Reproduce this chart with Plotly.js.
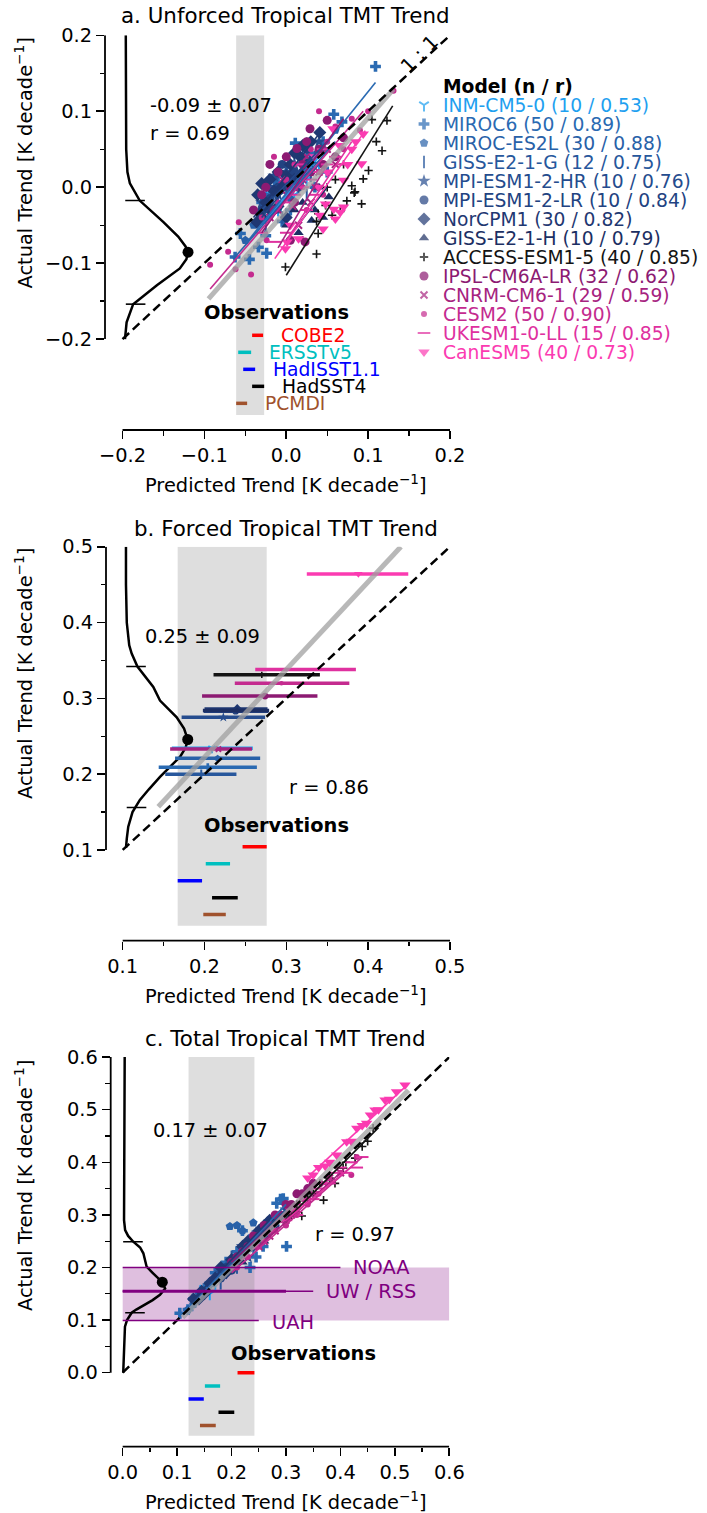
<!DOCTYPE html>
<html><head><meta charset="utf-8">
<script src="https://cdn.plot.ly/plotly-3.0.1.min.js"></script>
<style>html,body{margin:0;padding:0;background:#fff}#chart{width:707px;height:1513px}</style>
</head><body><div id="chart"></div>
<script>
// ================= DATA =================
const models = ['INM-CM5-0','MIROC6','MIROC-ES2L','GISS-E2-1-G','MPI-ESM1-2-HR','MPI-ESM1-2-LR','NorCPM1','GISS-E2-1-H','ACCESS-ESM1-5','IPSL-CM6A-LR','CNRM-CM6-1','CESM2','UKESM1-0-LL','CanESM5'];
const nRuns = [10,50,30,12,10,10,30,10,40,32,29,50,15,40];
const rModel = ['0.53','0.89','0.88','0.75','0.76','0.84','0.82','0.79','0.85','0.62','0.59','0.90','0.85','0.73'];

// panel a: unforced trend (predicted, actual) per model
const unforcedPts = [
 [[-0.03,-0.04],[-0.02,-0.01],[-0.01,-0.03],[0.0,0.0],[0.01,-0.01],[0.015,0.02],[0.025,0.01],[0.03,0.04],[-0.005,0.015],[0.04,0.03]],
 [[0.109,0.159],[0.068,0.086],[0.058,0.096],[0.045,0.06],[0.03,0.045],[0.02,0.03],[0.011,0.058],[0.0,0.02],[-0.01,0.005],[-0.02,-0.01],[-0.03,-0.02],[-0.035,-0.045],[-0.045,-0.095],[-0.0625,-0.092],[-0.024,-0.087],[-0.034,-0.079],[-0.025,-0.064],[-0.056,-0.061],[0.005,-0.03],[0.05,0.02],[-0.005,-0.045],[0.035,0.0],[0.015,0.005]],
 [[-0.05,-0.07],[-0.04,-0.05],[-0.03,-0.04],[-0.02,-0.02],[-0.01,-0.03],[0.0,0.0],[0.01,0.01],[0.02,0.015],[0.03,0.035],[0.045,0.05],[0.06,0.075],[-0.015,0.01],[0.005,-0.015],[0.025,0.06]],
 [[-0.02,-0.03],[-0.01,-0.02],[0.0,-0.005],[0.005,0.01],[0.015,0.0],[0.02,0.02],[0.03,0.015],[-0.025,-0.05],[0.01,0.03],[0.035,0.04],[-0.005,-0.04],[0.025,-0.01]],
 [[-0.03,-0.02],[-0.02,0.0],[-0.01,-0.01],[0.0,0.02],[0.01,0.03],[0.02,0.04],[0.03,0.03],[0.04,0.06],[-0.015,0.015],[0.005,0.0]],
 [[-0.03,-0.03],[-0.02,-0.015],[-0.01,0.0],[0.0,0.01],[0.01,0.02],[0.02,0.02],[0.025,0.05],[-0.005,0.03],[0.015,0.0],[0.03,0.035]],
 [[-0.035,-0.01],[-0.03,0.005],[-0.025,-0.02],[-0.02,0.01],[-0.015,-0.005],[-0.01,0.02],[-0.005,0.0],[0.0,0.015],[0.005,0.03],[0.01,0.01],[0.017,0.04],[0.02,0.055],[0.025,0.03],[0.03,0.06],[-0.02,-0.03],[-0.03,-0.04],[0.041,0.072],[0.01,0.045],[-0.01,-0.025],[0.0,-0.04],[-0.036,-0.046]],
 [[0.0,-0.05],[0.01,-0.03],[0.02,-0.02],[0.031,-0.044],[0.04,0.0],[0.045,-0.04],[0.052,-0.013],[0.015,-0.06],[0.025,0.02],[0.035,-0.03]],
 [[0.1046,0.089],[0.123,0.0876],[0.117,0.048],[0.1005,0.022],[0.094,0.011],[0.08,0.002],[0.092,-0.022],[0.083,-0.0075],[0.066,-0.032],[0.037,-0.045],[0.037,-0.088],[0.048,-0.024],[0.074,-0.018],[0.056,-0.037],[0.084,-0.006],[-0.001,-0.105],[0.039,-0.061],[0.039,-0.035],[0.06,0.01],[0.07,0.03],[0.05,0.0],[0.11,0.06],[0.02,-0.07]],
 [[0.029,0.077],[0.013,0.051],[0.05,0.088],[-0.02,0.03],[-0.01,0.02],[0.0,0.04],[0.02,0.03],[0.03,0.02],[0.04,0.05],[-0.03,-0.01],[-0.025,0.0],[0.01,-0.02],[0.06,0.04],[-0.04,-0.03],[0.005,0.0],[0.045,0.03],[-0.015,-0.03],[0.025,0.06],[0.005,-0.07],[0.023,-0.072],[0.07,0.065]],
 [[-0.02,-0.04],[-0.01,-0.03],[0.0,-0.01],[0.01,0.0],[0.02,0.01],[0.03,-0.02],[0.04,0.02],[0.015,-0.05],[0.025,0.04],[0.05,0.05],[-0.005,0.01],[0.035,0.0],[0.06,0.03],[0.008,-0.025]],
 [[-0.093,-0.102],[-0.071,-0.085],[-0.058,-0.046],[-0.062,-0.108],[-0.043,-0.115],[-0.024,-0.07],[0.131,0.127],[0.04,0.1],[-0.03,-0.04],[-0.01,-0.02],[0.0,0.01],[0.01,0.03],[0.02,0.0],[0.03,0.05],[0.04,0.02],[0.05,0.06],[0.06,0.08],[0.07,0.05],[0.08,0.09],[-0.015,0.04],[0.025,-0.03],[0.09,0.075],[0.045,-0.01],[0.1,0.1]],
 [[-0.03,-0.06],[-0.014,-0.072],[0.0,-0.02],[0.01,-0.01],[0.02,0.0],[0.03,0.01],[0.04,0.02],[0.05,0.03],[0.06,0.04],[0.015,0.03],[0.025,-0.03],[0.045,0.05],[0.0,-0.06],[0.07,0.03],[0.035,-0.01]],
 [[0.057,0.077],[0.094,0.07],[0.092,0.031],[0.08,0.05],[0.07,0.009],[0.06,-0.042],[0.066,-0.033],[0.048,-0.022],[0.005,-0.05],[-0.001,-0.081],[0.058,-0.029],[0.07,-0.026],[0.041,-0.037],[0.015,-0.068],[0.001,-0.072],[0.04,0.0],[0.05,0.02],[0.075,0.03],[0.085,0.06],[0.035,0.04],[0.065,0.055],[0.045,-0.055]]
];
// per-model regression lines in panel a: [x0, y0, x1, y1]
const unforcedFit = [
 [-0.03,-0.05,0.04,0.04],[-0.05,-0.075,0.109,0.138],[-0.065,-0.095,0.06,0.06],[-0.02,-0.04,0.04,0.03],
 [-0.03,-0.03,0.05,0.06],[-0.03,-0.04,0.03,0.04],[-0.04,-0.04,0.04,0.07],[0.0,-0.07,0.05,0.0],
 [0.0,-0.116,0.13,0.107],[-0.03,-0.06,0.07,0.09],[-0.01,-0.08,0.05,0.03],[-0.093,-0.134,0.094,0.10],
 [0.0,-0.07,0.08,0.06],[-0.014,-0.094,0.0965,0.0745]
];
const unforcedAllFit = [-0.095,-0.147,0.131,0.129];

// panel b: forced trend, predicted (centre, low, high) and actual
const forcedPred = [0.209,0.204,0.216,0.196,0.223,0.238,0.240,0.240,0.270,0.274,0.217,0.294,0.323,0.388];
const forcedLo   = [0.160,0.144,0.164,0.152,0.172,0.199,0.200,0.198,0.211,0.197,0.158,0.237,0.262,0.325];
const forcedHi   = [0.259,0.264,0.268,0.239,0.274,0.278,0.277,0.279,0.341,0.338,0.258,0.377,0.385,0.449];
const forcedAct  = [0.234,0.209,0.221,0.200,0.275,0.283,0.286,0.284,0.331,0.303,0.233,0.320,0.338,0.464];
const forcedAllFit = [0.1435,0.157,0.44,0.5];

// panel c: total trend
const totalPts = [
 [[0.15,0.16],[0.17,0.17],[0.18,0.19],[0.2,0.2],[0.21,0.22],[0.22,0.23],[0.23,0.24],[0.19,0.2],[0.24,0.25],[0.16,0.15]],
 [[0.105,0.113],[0.12,0.12],[0.13,0.14],[0.145,0.15],[0.15,0.16],[0.16,0.17],[0.17,0.19],[0.18,0.19],[0.19,0.21],[0.203,0.214],[0.21,0.23],[0.228,0.233],[0.234,0.2],[0.245,0.22],[0.258,0.24],[0.27,0.28],[0.283,0.322],[0.29,0.33],[0.301,0.24],[0.295,0.331],[0.24,0.26],[0.22,0.27]],
 [[0.12,0.12],[0.13,0.13],[0.14,0.15],[0.155,0.16],[0.165,0.17],[0.175,0.18],[0.185,0.2],[0.197,0.278],[0.21,0.28],[0.22,0.27],[0.24,0.285],[0.25,0.25],[0.26,0.27],[0.28,0.29]],
 [[0.17,0.18],[0.18,0.17],[0.19,0.19],[0.2,0.21],[0.21,0.2],[0.22,0.22],[0.23,0.23],[0.24,0.235],[0.25,0.26],[0.26,0.255],[0.27,0.27],[0.2,0.22]],
 [[0.18,0.19],[0.19,0.2],[0.2,0.21],[0.22,0.24],[0.23,0.22],[0.24,0.25],[0.26,0.27],[0.27,0.28],[0.29,0.3],[0.3,0.31]],
 [[0.18,0.18],[0.19,0.2],[0.2,0.195],[0.21,0.22],[0.22,0.225],[0.24,0.24],[0.25,0.27],[0.26,0.26],[0.27,0.29],[0.28,0.28]],
 [[0.13,0.14],[0.14,0.14],[0.145,0.155],[0.15,0.15],[0.16,0.17],[0.17,0.18],[0.18,0.2],[0.19,0.19],[0.2,0.215],[0.21,0.21],[0.22,0.24],[0.23,0.25],[0.24,0.25],[0.25,0.27],[0.26,0.28],[0.27,0.29]],
 [[0.2,0.2],[0.21,0.22],[0.22,0.21],[0.23,0.24],[0.24,0.24],[0.25,0.26],[0.26,0.25],[0.27,0.28],[0.28,0.29],[0.3,0.3]],
 [[0.329,0.298],[0.369,0.328],[0.405,0.389],[0.427,0.408],[0.46,0.465],[0.3625,0.36],[0.3,0.29],[0.32,0.32],[0.34,0.33],[0.35,0.34],[0.38,0.37],[0.39,0.36],[0.41,0.4],[0.44,0.43],[0.45,0.44],[0.31,0.3]],
 [[0.2,0.21],[0.21,0.22],[0.22,0.23],[0.23,0.24],[0.24,0.26],[0.25,0.26],[0.26,0.28],[0.27,0.28],[0.28,0.3],[0.29,0.3],[0.3,0.32],[0.31,0.32],[0.32,0.34],[0.33,0.34],[0.34,0.35],[0.35,0.36]],
 [[0.25,0.24],[0.26,0.25],[0.27,0.26],[0.28,0.27],[0.3,0.29],[0.31,0.3],[0.32,0.31],[0.34,0.33],[0.35,0.34],[0.37,0.36],[0.38,0.37],[0.4,0.38]],
 [[0.2,0.2],[0.21,0.2],[0.22,0.22],[0.23,0.22],[0.24,0.24],[0.25,0.24],[0.26,0.25],[0.27,0.27],[0.28,0.27],[0.29,0.29],[0.3,0.28],[0.31,0.31],[0.32,0.3],[0.33,0.33],[0.34,0.32],[0.36,0.34],[0.38,0.37],[0.4,0.38],[0.42,0.376],[0.43,0.41]],
 [[0.3,0.29],[0.31,0.31],[0.32,0.3],[0.33,0.32],[0.34,0.33],[0.35,0.33],[0.36,0.35],[0.37,0.36],[0.38,0.36],[0.39,0.38],[0.4,0.39],[0.41,0.38],[0.42,0.4],[0.43,0.39],[0.44,0.41]],
 [[0.35,0.376],[0.372,0.393],[0.393,0.414],[0.4115,0.439],[0.43,0.4645],[0.448,0.474],[0.4635,0.4995],[0.482,0.5185],[0.503,0.534],[0.5186,0.547],[0.34,0.37],[0.36,0.39],[0.42,0.44],[0.44,0.47],[0.47,0.5],[0.49,0.52],[0.38,0.4],[0.455,0.49]]
];
const totalFit = [
 [0.15,0.15,0.25,0.26],[0.11,0.11,0.30,0.32],[0.12,0.12,0.28,0.29],[0.17,0.17,0.27,0.27],
 [0.18,0.19,0.30,0.31],[0.18,0.18,0.28,0.29],[0.13,0.14,0.27,0.29],[0.20,0.20,0.30,0.30],
 [0.30,0.29,0.47,0.466],[0.20,0.21,0.36,0.36],[0.25,0.24,0.40,0.38],[0.20,0.19,0.44,0.41],
 [0.30,0.29,0.43,0.40],[0.344,0.376,0.525,0.549]
];
const totalAllFit = [0.11,0.105,0.525,0.537];

// left-hand distributions of the observation-based actual trend (value, density-position)
const unforcedPdfY = [0.2,0.1,0.05,0.02,0.005,-0.0176,-0.046,-0.065,-0.078,-0.0855,-0.095,-0.107,-0.129,-0.154,-0.178,-0.2];
const unforcedPdfX = [-0.196,-0.196,-0.1955,-0.194,-0.191,-0.179,-0.150,-0.132,-0.123,-0.120,-0.122,-0.130,-0.158,-0.187,-0.195,-0.197];
const forcedPdfY = [0.5,0.45,0.40,0.37,0.359,0.342,0.315,0.297,0.275,0.26,0.2457,0.235,0.2228,0.21,0.1964,0.18,0.166,0.15,0.1307,0.115,0.1026];
const forcedPdfX = [0.104,0.104,0.105,0.108,0.111,0.118,0.1374,0.1456,0.166,0.175,0.1795,0.177,0.170,0.158,0.1456,0.132,0.121,0.112,0.1068,0.105,0.104];
const totalPdfY = [0.6,0.5,0.4,0.3,0.29,0.271,0.26,0.249,0.238,0.227,0.215,0.2015,0.19,0.18,0.172,0.16,0.148,0.138,0.1287,0.12,0.114,0.1,0.0875,0.05,0.03,0.0];
const totalPdfX = [0.0037,0.0037,0.003,0.003,0.0025,0.0045,0.01,0.0195,0.032,0.038,0.041,0.044,0.055,0.066,0.0728,0.078,0.0685,0.055,0.038,0.025,0.0165,0.008,0.0042,0.0025,0.002,0.001];
const pdfPeak = [[-0.120,-0.0855],[0.1795,0.2457],[0.0728,0.172]];
const pdfSigmaMarks = [[[-0.1847,-0.0176],[-0.184,-0.154]],[[0.1163,0.342],[0.1169,0.156]],[[0.0189,0.249],[0.0226,0.114]]];
const statText = ['-0.09 ± 0.07','0.25 ± 0.09','0.17 ± 0.07'];
const rText = ['r = 0.69','r = 0.86','r = 0.97'];

// observational SST datasets: predicted trend ranges
const obsNames = ['COBE2','ERSSTv5','HadISST1.1','HadSST4','PCMDI'];
const obsUnforcedLo = [-0.0417,-0.0587,-0.0526,-0.0417,-0.0612];
const obsUnforcedHi = [-0.0283,-0.0429,-0.0380,-0.0270,-0.0478];
const obsForcedLo = [0.2465,0.2015,0.1672,0.2092,0.1985];
const obsForcedHi = [0.2760,0.2312,0.1970,0.2406,0.2260];
const obsTotalLo = [0.211,0.151,0.121,0.176,0.142];
const obsTotalHi = [0.242,0.179,0.149,0.205,0.171];

// satellite TMT trends (panel c)
const satNames = ['NOAA','UW','RSS','UAH'];
const satTrend = [0.200,0.155,0.155,0.099];

const tickA = [-0.2,-0.1,0,0.1,0.2], tickTextA = ['−0.2','−0.1','0.0','0.1','0.2'], minorA = [-0.15,-0.05,0.05,0.15];
const tickB = [0.1,0.2,0.3,0.4,0.5], tickTextB = ['0.1','0.2','0.3','0.4','0.5'], minorB = [0.15,0.25,0.35,0.45];
const tickC = [0,0.1,0.2,0.3,0.4,0.5,0.6], tickTextC = ['0.0','0.1','0.2','0.3','0.4','0.5','0.6'], minorC = [0.05,0.15,0.25,0.35,0.45,0.55];

// ================= STYLE =================
const modelColors = ['#1ea0f0','#2a6ab2','#2861a8','#27579c','#254c8e','#224281','#1f3872','#1c2f63','#141414','#8c1a72','#a6237f','#c42b8f','#df319f','#fb3bb1'];
const modelSymbols = ['y-down-open','cross','pentagon','line-ns-open','star','circle','diamond','triangle-up','cross-thin-open','circle','x-thin-open','circle','line-ew-open','triangle-down'];
const modelSizes = [8,9,9,9,10,9,10,9,6,9,7,6,9,10];
const obsColors = ['#ff0000','#00bfbf','#0000ff','#000000','#a0522d'];
const satColor = '#800080';
const FONT = 'DejaVu Sans, sans-serif';
const FS = 19.4;
const LFS = 18.7;
const W = 707, H = 1513;
const PX = p => p / W, PY = p => 1 - p / H;

function mk(i, scale) {
  const open = modelSymbols[i].endsWith('-open');
  return {symbol: modelSymbols[i], size: modelSizes[i] * (scale || 1), color: modelColors[i],
          line: {width: open ? (i === 8 ? 1.6 : 2) : 0, color: modelColors[i]}};
}

const traces = [];
const annotations = [];
const shapes = [];

function panel(ax, ay, pts, fits, allFit, pdfX, pdfY, pIdx, ticks, obsLo, obsHi, obsBase, obsStep) {
  traces.push({x: pdfX, y: pdfY, xaxis: ax, yaxis: ay, mode: 'lines', line: {color: '#000', width: 2.5}});
  traces.push({x: pdfSigmaMarks[pIdx].map(p => p[0]), y: pdfSigmaMarks[pIdx].map(p => p[1]), xaxis: ax, yaxis: ay, mode: 'markers',
    marker: {symbol: 'line-ew-open', size: 14, color: '#000', line: {width: 1.6, color: '#000'}}});
  traces.push({x: [pdfPeak[pIdx][0]], y: [pdfPeak[pIdx][1]], xaxis: ax, yaxis: ay, mode: 'markers', marker: {color: '#000', size: 11}});
  pts.forEach((p, i) => traces.push({x: p.map(q => q[0]), y: p.map(q => q[1]), xaxis: ax, yaxis: ay, mode: 'markers', marker: mk(i), cliponaxis: false}));
  fits.forEach((f, i) => traces.push({x: [f[0], f[2]], y: [f[1], f[3]], xaxis: ax, yaxis: ay, mode: 'lines', line: {color: modelColors[i], width: 1.6}}));
  traces.push({x: [allFit[0], allFit[2]], y: [allFit[1], allFit[3]], xaxis: ax, yaxis: ay, mode: 'lines', line: {color: 'rgba(160,160,160,0.75)', width: 5}});
  const lo = ticks[0], hi = ticks[ticks.length - 1];
  traces.push({x: [lo, hi], y: [lo, hi], xaxis: ax, yaxis: ay, mode: 'lines', line: {color: '#000', width: 2.5, dash: '9px,5px'}, cliponaxis: false});
  obsLo.forEach((l, k) => traces.push({x: [l, obsHi[k]], y: [obsBase - k * obsStep, obsBase - k * obsStep], xaxis: ax, yaxis: ay, mode: 'lines', line: {color: obsColors[k], width: 3.5}}));
}

// panel a
panel('x', 'y', unforcedPts, unforcedFit, unforcedAllFit, unforcedPdfX, unforcedPdfY, 0, tickA, obsUnforcedLo, obsUnforcedHi, -0.195, 0.0224);
// panel b: error bars
(function () {
  const ax = 'x2', ay = 'y2';
  traces.push({x: forcedPdfX, y: forcedPdfY, xaxis: ax, yaxis: ay, mode: 'lines', line: {color: '#000', width: 2.5}});
  traces.push({x: pdfSigmaMarks[1].map(p => p[0]), y: pdfSigmaMarks[1].map(p => p[1]), xaxis: ax, yaxis: ay, mode: 'markers',
    marker: {symbol: 'line-ew-open', size: 14, color: '#000', line: {width: 1.6, color: '#000'}}});
  traces.push({x: [pdfPeak[1][0]], y: [pdfPeak[1][1]], xaxis: ax, yaxis: ay, mode: 'markers', marker: {color: '#000', size: 11}});
  models.forEach((m, i) => traces.push({x: [forcedPred[i]], y: [forcedAct[i]], xaxis: ax, yaxis: ay, mode: 'markers',
    marker: mk(i, 0.75),
    error_x: {type: 'data', symmetric: false, array: [forcedHi[i] - forcedPred[i]], arrayminus: [forcedPred[i] - forcedLo[i]], thickness: 3.5, width: 0, color: modelColors[i]}}));
  traces.push({x: [forcedAllFit[0], forcedAllFit[2]], y: [forcedAllFit[1], forcedAllFit[3]], xaxis: ax, yaxis: ay, mode: 'lines', line: {color: 'rgba(160,160,160,0.75)', width: 5}});
  traces.push({x: [tickB[0], tickB[4]], y: [tickB[0], tickB[4]], xaxis: ax, yaxis: ay, mode: 'lines', line: {color: '#000', width: 2.5, dash: '9px,5px'}, cliponaxis: false});
  obsForcedLo.forEach((l, k) => traces.push({x: [l, obsForcedHi[k]], y: [0.1043 - k * 0.0224, 0.1043 - k * 0.0224], xaxis: ax, yaxis: ay, mode: 'lines', line: {color: obsColors[k], width: 3.5}}));
})();
// panel c
panel('x3', 'y3', totalPts, totalFit, totalAllFit, totalPdfX, totalPdfY, 2, tickC, obsTotalLo, obsTotalHi, 0.0, 0.0251);
// satellites
const satEnd = {NOAA: 0.4, UW: 0.3, RSS: 0.35, UAH: 0.25};
const satWidth = {NOAA: 1.5, UW: 3, RSS: 1.5, UAH: 1.5};
satNames.forEach((s, k) => traces.push({x: [0, satEnd[s]], y: [satTrend[k], satTrend[k]], xaxis: 'x3', yaxis: 'y3', mode: 'lines', line: {color: satColor, width: satWidth[s]}}));
annotations.push({xref: 'x3', yref: 'y3', x: satEnd.NOAA, y: satTrend[0], xanchor: 'left', xshift: 11, text: 'NOAA', showarrow: false, font: {color: satColor, size: FS}});
annotations.push({xref: 'x3', yref: 'y3', x: satEnd.RSS, y: satTrend[2], xanchor: 'left', xshift: 11, text: 'UW / RSS', showarrow: false, font: {color: satColor, size: FS}});
annotations.push({xref: 'x3', yref: 'y3', x: satEnd.UAH, y: satTrend[3], xanchor: 'left', xshift: 11, yshift: -2, text: 'UAH', showarrow: false, font: {color: satColor, size: FS}});
shapes.push({type: 'rect', xref: 'x3', yref: 'y3', x0: 0, x1: 0.6, y0: Math.min(...satTrend), y1: Math.max(...satTrend), fillcolor: 'rgba(128,0,128,0.25)', line: {width: 0}, layer: 'below'});

// legend (drawn on its own hidden axes)
traces.push({x: models.map(() => 9), y: models.map((m, i) => i), xaxis: 'x4', yaxis: 'y4', mode: 'markers',
  marker: {symbol: modelSymbols, size: modelSizes, color: modelColors, line: {width: modelSymbols.map(s => s.endsWith('-open') ? 2 : 0), color: modelColors}}});
annotations.push({xref: 'x4', yref: 'y4', x: 26, y: -1, xanchor: 'left', text: '<b>Model (n / r)</b>', showarrow: false, font: {size: LFS}});
models.forEach((m, i) => annotations.push({xref: 'x4', yref: 'y4', x: 26, y: i, xanchor: 'left', showarrow: false,
  text: m + ' (' + nRuns[i] + ' / ' + rModel[i] + ')', font: {size: LFS, color: modelColors[i]}}));

// gray observational bands
[['x', 'y', obsUnforcedLo, obsUnforcedHi, -0.3, 0.2], ['x2', 'y2', obsForcedLo, obsForcedHi, 0, 0.5], ['x3', 'y3', obsTotalLo, obsTotalHi, -0.12, 0.6]].forEach(b => {
  shapes.push({type: 'rect', xref: b[0], yref: b[1], x0: Math.min(...b[2]), x1: Math.max(...b[3]), y0: b[4], y1: b[5], fillcolor: 'rgba(128,128,128,0.26)', line: {width: 0}, layer: 'below'});
});
// trimmed spines
[['x', 'y', tickA], ['x2', 'y2', tickB], ['x3', 'y3', tickC]].forEach(s => {
  const t = s[2];
  shapes.push({type: 'line', xref: s[0] + ' domain', x0: 0, x1: 0, yref: s[1], y0: t[0], y1: t[t.length - 1], line: {color: '#000', width: 1.8}});
  shapes.push({type: 'line', xref: s[0], x0: t[0], x1: t[t.length - 1], yref: s[1] + ' domain', y0: 0, y1: 0, line: {color: '#000', width: 1.8}});
});

// panel texts
const txt = (xr, yr, x, y, t, extra) => annotations.push(Object.assign({xref: xr, yref: yr, x: x, y: y, text: t, showarrow: false, font: {size: FS}}, extra || {}));
txt('x', 'y', -0.1692, 0.1074, statText[0], {xanchor: 'left'});
txt('x', 'y', -0.1692, 0.0701, rText[0], {xanchor: 'left'});
txt('x2', 'y2', 0.1248, 0.3816, statText[1], {xanchor: 'left'});
txt('x2', 'y2', 0.3005, 0.1825, rText[1], {xanchor: 'left'});
txt('x3', 'y3', 0.0514, 0.46, statText[2], {xanchor: 'left'});
txt('x3', 'y3', 0.350, 0.2618, rText[2], {xanchor: 'left'});
txt('x', 'y', 0.1637, 0.1754, '1 : 1', {textangle: -45});
txt('x', 'y', -0.0117, -0.1654, '<b>Observations</b>');
txt('x2', 'y2', 0.288, 0.132, '<b>Observations</b>');
txt('x3', 'y3', 0.333, 0.0369, '<b>Observations</b>');
obsNames.forEach((n, k) => txt('x', 'y', obsUnforcedHi[k], -0.195 - k * 0.0224, n, {xanchor: 'left', xshift: 16, font: {size: LFS, color: obsColors[k]}}));

// titles and axis labels
const titles = ['a. Unforced Tropical TMT Trend', 'b. Forced Tropical TMT Trend', 'c. Total Tropical TMT Trend'];
const titleY = [16, 528, 1038];
const xLabY = [484, 995, 1501];
const yLabY = [163.5, 674, 1186];
titles.forEach((t, k) => {
  txt('paper', 'paper', PX(285.5), PY(titleY[k]), t, {xanchor: 'center', yanchor: 'middle', font: {size: 21.4}});
  txt('paper', 'paper', PX(286), PY(xLabY[k]), 'Predicted Trend [K decade<sup>−1</sup>]', {xanchor: 'center', yanchor: 'middle'});
  txt('paper', 'paper', PX(24), PY(yLabY[k]), 'Actual Trend [K decade<sup>−1</sup>]', {xanchor: 'center', yanchor: 'middle', textangle: -90});
});

function axis(domain, range, tv, tt, mv, anchor) {
  return {domain: domain, range: range, tickmode: 'array', tickvals: tv, ticktext: tt, ticks: 'outside', ticklen: 8, tickwidth: 1.6, tickcolor: '#000',
    showgrid: false, zeroline: false, showline: false, anchor: anchor, fixedrange: true, tickfont: {size: FS, color: '#000'},
    minor: {tickmode: 'array', tickvals: mv, ticks: 'outside', ticklen: 4.5, tickwidth: 1.3, tickcolor: '#000', showgrid: false}};
}

const layout = {
  width: W, height: H, margin: {l: 0, r: 0, t: 0, b: 0}, showlegend: false,
  paper_bgcolor: '#fff', plot_bgcolor: 'rgba(0,0,0,0)', font: {family: FONT, size: FS, color: '#000'},
  xaxis: axis([PX(105), PX(450)], [-0.2214, 0.2], tickA, tickTextA, minorA, 'y'),
  yaxis: axis([PY(430), PY(35.3)], [-0.3197, 0.2], tickA, tickTextA, minorA, 'x'),
  xaxis2: axis([PX(106), PX(450)], [0.0796, 0.5], tickB, tickTextB, minorB, 'y2'),
  yaxis2: axis([PY(940.7), PY(546.7)], [-0.0197, 0.5], tickB, tickTextB, minorB, 'x2'),
  xaxis3: axis([PX(110.7), PX(449.3)], [-0.022, 0.6], tickC, tickTextC, minorC, 'y3'),
  yaxis3: axis([PY(1446.7), PY(1057.1)], [-0.1407, 0.6], tickC, tickTextC, minorC, 'x3'),
  xaxis4: {domain: [PX(415), 1], range: [0, 292], visible: false, anchor: 'y4', fixedrange: true},
  yaxis4: {domain: [PY(361.5), PY(76.5)], range: [13.5, -1.5], visible: false, anchor: 'x4', fixedrange: true},
  shapes: shapes, annotations: annotations
};
traces.forEach(t => { t.hoverinfo = 'skip'; t.showlegend = false; });
Plotly.newPlot('chart', traces, layout, {staticPlot: true, displayModeBar: false});
</script></body></html>
